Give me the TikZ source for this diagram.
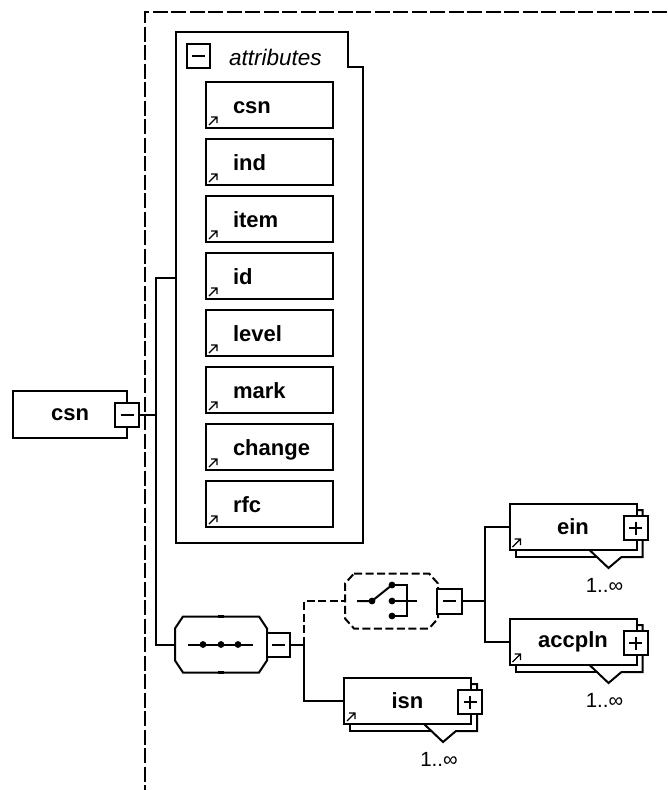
\documentclass[tikz,border=0pt]{standalone}
\usepackage{fontspec}
\setmainfont{Liberation Sans}
\usetikzlibrary{calc}
\newcommand\linkicon[1]{\draw[line width=1.3pt] ($(#1.south west)+(4,-4)$) -- ++(8,-8) ++(-6,0) -- ++(6,0) -- ++(0,6);}
\newcommand\minussign[1]{\draw ($(#1.center)+(-6.5,0)$) -- ($(#1.center)+(6.5,0)$);}
\newcommand\plussign[1]{\draw ($(#1.center)+(-6.5,0)$) -- ($(#1.center)+(6.5,0)$) ($(#1.center)+(0,-6.5)$) -- ($(#1.center)+(0,6.5)$);}
\newcommand\stackel[4]{%
  \begin{scope}[shift={(#2,#3)}]
    \fill[white] (-57.5,-17) -- (69.5,-17) -- (69.5,30) -- (48.5,30) -- (35.5,41) -- (23.9,30) -- (-57.5,30) -- cycle;
    \draw (16.5,23) -- (35.5,41) -- (48.5,30) -- (69.5,30) -- (69.5,-17) -- (63.5,-17);
    \draw (-57.5,23) -- (-57.5,30) -- (23.9,30);
    \node[elem, lbl] (#1) at (0,0) {#4};
    \node[ctrl] (#1p) at (62.5,1) {};
    \node[card] (#1c) at (31.5,58) {1..∞};
  \end{scope}
  \plussign{#1p}
  \linkicon{#1}
}
\begin{document}
\begin{tikzpicture}[x=1pt,y=-1pt,line width=2pt,
  elem/.style={draw, fill=white, inner sep=0pt, minimum width=127pt, minimum height=46pt},
  ctrl/.style={draw, fill=white, inner sep=0pt, minimum width=24pt, minimum height=24pt},
  lbl/.style={font=\bfseries\fontsize{22}{25}\selectfont, inner sep=0pt},
  card/.style={font=\fontsize{20.5}{24}\selectfont, inner sep=0pt},
  ital/.style={font=\itshape\fontsize{22.5}{25}\selectfont, inner sep=0pt},
  framedash/.style={dash pattern=on 15pt off 3.5pt},
  shapedash/.style={dash pattern=on 8pt off 3.5pt},
  hull/.style={draw=none, inner sep=0pt}]
\useasboundingbox (0,0) rectangle (667,790);

% outer dashed frame
\draw[framedash] (667,12) -- (145,12) -- (145,790);

% root element
\node[elem, lbl, minimum width=114pt, minimum height=47pt] (csn) at (70,414.5) {csn};
\node[ctrl] (csnm) at (127,414.5) {};
\minussign{csnm}

% attributes group
\draw[fill=white] (176,543) -- (176,32) -- (348,32) -- (348,67) -- (363,67) -- (363,543) -- cycle;
\node[ctrl, minimum width=23pt] (attrm) at (198.5,56) {};
\minussign{attrm}
\node[ital, anchor=west] (attrl) at (228,57) {attributes};
\foreach \n [count=\i from 0] in {csn,ind,item,id,level,mark,change,rfc} {
  \node[elem] (a\i) at (269.5,{105+57*\i}) {};
  \node[lbl, anchor=base west] (t\i) at (232,{113+57*\i}) {\n};
  \linkicon{a\i}
}

% connectors from root
\coordinate (attrL) at (176,278);
\coordinate (bus1) at (156,278);
\draw (csnm.east) -- (csnm.east -| bus1);
\draw (attrL) -- (bus1) |- (221,644.5);

% sequence compositor
\node[hull, minimum width=90pt, minimum height=54pt] (seq) at (221,644.5) {};
\draw[fill=white] ($(seq.north west)+(8,0)$) -- ($(seq.north east)+(-8,0)$) -- ($(seq.north east)+(0,12)$) -- ($(seq.south east)+(0,-12)$) -- ($(seq.south east)+(-8,0)$) -- ($(seq.south west)+(8,0)$) -- ($(seq.south west)+(0,-12)$) -- ($(seq.north west)+(0,12)$) -- cycle;
\draw[line width=3pt] ($(seq.north)+(-3,0)$) -- ($(seq.north)+(3,0)$) ($(seq.south)+(-3,0)$) -- ($(seq.south)+(3,0)$);
\draw (188,644.5) -- (253,644.5);
\foreach \x in {203,221,238} \fill (\x,644.5) circle (3.4pt);
\node[ctrl, minimum width=23pt] (seqm) at (278.5,644.5) {};
\minussign{seqm}

% choice compositor
\node[hull, minimum width=91pt, minimum height=53pt] (choice) at (391.5,601) {};
\draw[shapedash, fill=white] ($(choice.north west)+(9,0)$) -- ($(choice.north east)+(-9,0)$) -- ($(choice.north east)+(0,10)$) -- ($(choice.south east)+(0,-10)$) -- ($(choice.south east)+(-9,0)$) -- ($(choice.south west)+(9,0)$) -- ($(choice.south west)+(0,-10)$) -- ($(choice.north west)+(0,10)$) -- cycle;
\draw (357,601) -- (372,601) -- (392,585);
\draw (392,585) -- (407,585) -- (407,616) -- (392,616);
\draw (392,601) -- (417,601);
\foreach \p in {(372,601),(392,585),(392,601),(392,616)} \fill \p circle (3.4pt);
\node[ctrl, minimum width=25pt, minimum height=25pt] (chm) at (449.5,601) {};
\minussign{chm}

% connectors from sequence
\coordinate (bus2) at (304,644.5);
\draw (seqm.east) -- (bus2);
\draw[shapedash] (bus2) |- (choice.west);

% child elements
\stackel{ein}{573}{527}{ein}
\stackel{accpln}{573}{642}{accpln}
\stackel{isn}{407.5}{701}{isn}

\draw (bus2) |- (isn.west);
\coordinate (bus3) at (485,601);
\draw (chm.east) -- (bus3);
\draw (ein.west) -| (bus3) |- (accpln.west);
\end{tikzpicture}
\end{document}
